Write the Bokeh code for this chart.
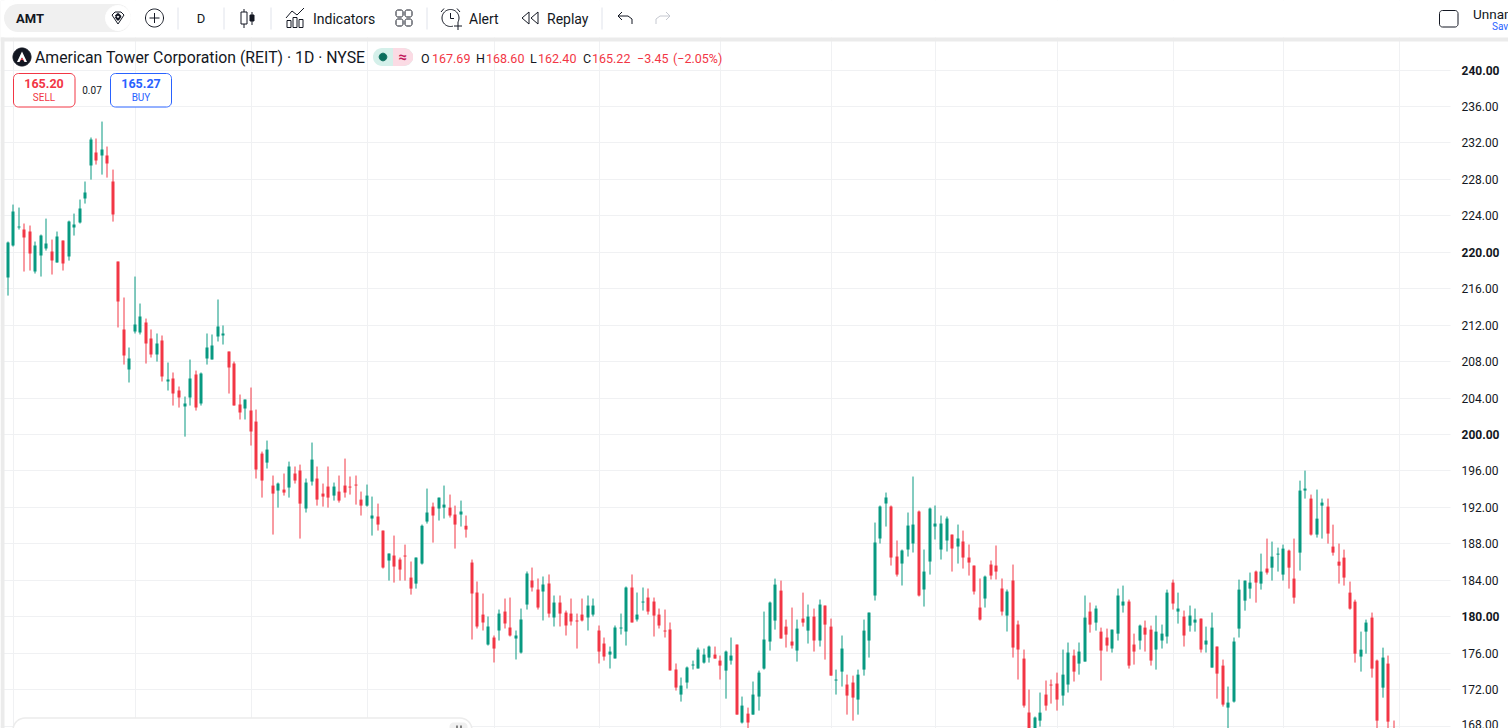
from bokeh.plotting import figure
from bokeh.embed import file_html
from bokeh.resources import INLINE
from bokeh.core.properties import value
from bokeh.models import Range1d, FixedTicker, ColumnDataSource, LinearAxis
import math

opens = [
217.22,220.73,222.71,222.49,222.27,217.88,219.63,220.40,220.07,218.86,
221.28,219.52,222.71,223.25,225.89,229.51,230.94,230.61,230.61,227.76,
218.97,211.52,207.13,211.30,211.19,212.28,210.53,208.77,210.31,205.81,
206.14,204.82,203.06,204.05,206.58,203.39,208.33,208.22,210.75,210.86,
209.10,207.78,203.28,202.85,202.62,201.41,197.90,196.91,194.39,193.84,
193.95,194.17,195.71,196.04,191.87,194.83,195.16,193.51,194.28,193.29,
193.73,194.39,194.28,194.50,192.85,192.19,190.77,190.99,189.45,186.16,
186.71,186.27,186.71,184.29,183.63,185.83,190.44,192.08,191.87,191.97,
191.97,191.21,191.21,189.98,185.94,182.65,180.23,176.94,177.71,178.48,
180.56,178.81,177.60,176.06,181.33,183.97,182.98,182.76,183.64,179.91,
181.55,180.45,180.34,179.58,180.23,179.91,180.23,178.48,177.05,175.84,
175.41,178.70,178.37,183.20,179.69,181.55,182.10,181.66,180.23,178.48,
178.59,174.20,171.45,172.77,174.64,174.31,174.96,175.51,175.84,175.18,
174.08,175.18,176.94,168.38,169.36,169.25,171.23,174.30,177.27,179.57,
182.86,178.91,177.27,176.28,179.79,178.47,180.01,177.38,181.22,178.91,
172.99,173.97,172.55,172.77,170.90,174.19,177.38,182.32,188.58,192.42,
192.09,186.60,185.83,187.37,188.03,191.54,182.98,186.05,189.89,187.37,
188.36,189.01,187.70,188.25,186.49,185.61,181.00,181.99,185.72,185.61,
183.09,180.12,183.97,179.14,175.40,169.48,166.90,168.59,171.45,172.55,
172.66,171.34,172.55,175.73,174.85,175.07,180.56,179.35,178.36,177.71,
176.50,178.14,181.22,181.66,176.94,177.38,178.80,178.58,176.39,177.38,
177.82,183.74,180.56,180.01,179.02,179.35,179.79,176.94,174.41,176.72,
174.63,170.02,170.68,178.69,181.76,183.08,184.95,183.63,185.28,185.38,
186.81,184.62,187.25,184.18,187.03,193.84,192.96,189.01,192.19,192.08,
187.69,186.04,186.48,182.64,181.65,175.62,178.36,179.90,175.18,172.21,
174.85,167.69]
highs = [
221.17,225.23,224.90,223.15,222.93,221.17,221.94,223.69,221.39,222.27,
221.28,223.47,224.24,225.78,227.76,232.59,232.48,234.34,231.60,229.07,
218.97,215.03,209.54,217.33,214.37,212.72,211.52,211.08,210.86,207.89,
206.80,205.26,204.16,208.22,207.01,206.80,211.08,210.97,214.81,211.96,
209.10,208.00,204.38,203.83,205.15,202.73,198.12,199.33,195.49,194.72,
195.71,197.02,196.48,196.69,195.16,199.11,196.48,194.61,196.48,194.72,
195.49,197.35,195.38,195.49,193.73,194.50,193.18,192.41,189.45,186.93,
188.90,186.49,187.91,186.05,186.49,190.11,194.06,192.52,193.07,194.39,
193.40,192.19,192.74,191.10,186.27,183.86,182.54,180.02,177.93,180.78,
181.99,182.10,178.48,180.89,184.96,185.39,184.19,184.41,184.63,182.32,
182.32,180.67,181.99,180.34,181.99,182.32,181.99,179.03,177.71,176.72,
179.03,180.34,183.31,184.63,182.65,183.20,183.09,182.10,180.89,180.78,
179.36,174.86,173.32,174.53,175.18,176.61,176.50,176.83,176.72,175.73,
176.28,177.71,176.94,171.23,170.02,172.88,174.08,180.56,181.66,184.18,
183.96,179.68,181.00,179.68,182.64,181.33,180.89,181.88,181.22,179.79,
174.19,177.93,173.64,173.53,174.19,179.68,180.45,190.33,192.20,193.62,
192.20,188.36,187.37,191.43,195.38,191.65,187.37,191.98,192.20,191.10,
190.99,189.01,190.11,189.45,187.92,185.61,184.19,184.51,186.16,187.81,
184.19,182.98,185.72,179.57,176.39,172.00,169.04,171.67,172.99,173.10,
173.86,176.39,177.16,176.39,177.16,182.32,181.55,181.22,178.80,178.69,
178.58,183.08,183.41,181.88,178.14,179.13,179.57,179.02,180.12,179.13,
182.97,184.07,182.64,180.67,181.22,180.89,179.79,178.91,180.45,176.72,
175.29,172.33,177.71,184.07,183.96,184.84,185.06,186.92,188.57,188.24,
187.58,187.91,187.36,188.57,194.93,196.03,193.40,193.95,192.96,192.96,
190.10,188.02,187.36,183.85,181.87,178.36,179.68,180.45,175.29,176.60,
175.73,168.60]
lows = [
215.24,220.62,222.49,217.88,217.99,217.66,217.33,220.18,217.55,218.86,
217.99,219.08,221.83,223.15,225.34,227.97,229.62,228.52,228.19,223.36,
211.74,207.67,205.70,211.08,210.97,207.78,208.44,208.00,205.81,204.82,
203.17,202.95,199.76,203.17,202.62,203.17,207.67,208.22,210.20,209.87,
204.49,203.17,201.64,201.64,198.78,195.16,193.07,196.26,189.01,191.97,
193.29,193.07,194.61,188.57,191.43,194.39,192.19,192.08,191.97,192.74,
192.52,193.07,193.40,192.30,191.10,192.08,188.90,189.45,185.28,183.96,
183.74,183.96,183.96,182.42,183.08,185.72,190.22,188.13,190.55,190.77,
190.88,187.47,189.89,188.68,177.49,178.70,178.48,176.83,174.97,177.38,
178.70,177.82,175.30,175.95,180.78,182.76,180.78,179.58,179.91,178.92,
178.92,177.93,179.03,176.50,179.47,178.48,180.02,174.86,175.18,174.31,
175.41,178.04,176.83,179.36,179.47,180.67,180.23,177.82,178.70,177.71,
174.09,171.89,170.68,172.11,174.20,174.31,174.85,174.96,175.40,173.10,
171.00,174.74,169.25,168.27,167.72,169.25,169.69,174.19,176.28,178.58,
177.60,176.61,176.50,175.07,178.91,177.05,176.17,176.72,175.29,173.53,
171.45,172.33,169.25,168.59,169.25,173.53,175.51,181.77,188.03,189.89,
185.61,184.40,183.42,186.60,187.04,182.21,181.11,184.62,188.47,186.27,
187.15,184.95,185.83,185.28,184.51,182.43,179.57,181.00,184.08,184.08,
180.12,178.37,175.51,173.10,170.02,166.60,166.20,167.94,169.69,170.46,
169.69,170.24,171.67,172.88,173.64,175.07,178.25,178.47,172.99,176.17,
176.06,177.38,180.45,174.30,174.74,176.39,176.17,174.63,174.19,176.50,
177.05,180.78,179.24,176.72,178.36,178.36,176.06,176.06,174.41,171.00,
170.13,167.60,170.57,177.71,180.66,181.98,181.54,182.97,184.62,183.96,
184.95,183.96,183.08,181.43,185.06,192.96,188.90,188.68,188.57,188.02,
186.70,183.63,183.41,180.77,174.96,173.97,175.94,173.31,167.50,171.11,
167.40,162.40]
closes = [
221.06,224.46,222.82,221.61,219.85,220.73,221.83,220.95,219.08,221.72,
218.75,223.36,223.04,224.79,226.55,232.37,230.06,231.27,229.73,224.13,
214.58,208.66,208.33,212.06,212.94,209.98,208.77,209.98,206.36,206.03,
204.49,204.05,203.39,206.14,202.95,206.69,209.54,209.76,211.85,211.08,
207.34,203.17,202.41,203.83,200.32,196.15,194.94,198.34,193.51,194.61,
193.62,196.48,194.94,192.41,194.72,197.24,192.85,193.18,193.07,194.28,
192.74,193.62,194.17,194.39,192.19,193.29,191.10,190.11,185.39,186.93,
185.50,185.17,186.60,183.08,186.49,189.98,191.43,191.10,193.07,192.30,
191.10,190.11,191.54,189.56,182.54,178.92,179.36,178.92,176.50,180.34,
179.25,177.93,177.93,179.69,184.74,183.20,181.00,183.53,180.34,181.55,
180.34,179.03,179.47,179.47,179.58,181.22,181.22,176.17,175.62,176.17,
178.81,178.81,183.20,179.36,180.23,181.66,180.56,180.12,179.03,178.37,
174.09,172.22,172.44,174.42,174.75,176.39,175.84,176.72,175.40,174.63,
176.17,175.73,169.25,170.24,168.38,171.45,173.86,177.49,181.55,183.52,
177.60,178.03,176.83,178.69,179.35,180.01,177.38,181.33,179.13,173.53,
173.10,176.50,171.34,171.12,173.64,178.47,180.45,188.14,192.09,193.08,
186.49,184.62,187.26,190.00,190.11,182.32,184.95,191.87,190.22,190.22,
190.77,187.48,188.58,186.49,185.94,182.76,179.68,184.40,184.51,184.95,
180.56,182.76,176.61,176.39,170.24,167.20,168.93,169.47,170.24,172.44,
170.90,173.64,176.06,173.97,176.17,179.90,179.13,180.89,176.28,176.83,
178.58,182.32,181.66,174.63,176.17,179.02,178.03,175.18,178.36,178.14,
182.64,181.44,180.89,177.93,180.12,179.68,176.39,177.38,178.80,173.75,
170.35,170.57,177.27,182.97,183.96,183.74,183.74,184.95,184.84,186.59,
186.92,187.47,185.38,182.09,193.84,194.06,189.01,190.76,192.52,189.12,
187.03,185.60,184.29,180.88,175.94,176.38,179.35,174.30,168.59,175.51,
168.48,165.22]

month_ticks = [1, 23, 44, 65, 88, 107, 129, 149, 168, 190, 211, 231, 252]
price_ticks = [168,172,176,180,184,188,192,196,200,204,208,212,216,220,224,228,232,236,240]
bold_ticks = [180, 200, 220, 240]

title = "American Tower Corporation (REIT) · 1D · NYSE"
symbol = "AMT"
ohlc_text = [("O",421,"#131722"),("167.69",432,"#f23645"),("H",476,"#131722"),("168.60",486,"#f23645"),
             ("L",530,"#131722"),("162.40",538,"#f23645"),("C",583,"#131722"),("165.22",592,"#f23645"),
             ("−3.45",637,"#f23645"),("(−2.05%)",673,"#f23645")]
sell_price, buy_price, spread = "165.20", "165.27", "0.07"

GREEN, RED, BLUE, DARK, GRIDC, BAND, SEP = "#089981", "#f23645", "#2962ff", "#131722", "#f0f1f3", "#ebebeb", "#e0e3eb"
FONT = "Roboto"
W, H = 1508, 728
SCALE_X = 1450

PX_PER_BAR = 5.522
X0 = 7.3
PX_PER_USD = (725.5 - 69.5) / 72.0

def bar_x(i):
    # bars sit on whole device pixels, as in the reference
    return (round(6.8 + PX_PER_BAR * i) + 0.5 - X0) / PX_PER_BAR

x_rng = Range1d((0 - X0) / PX_PER_BAR, (W - X0) / PX_PER_BAR)
y_rng = Range1d(240 - (H - 69.5) / PX_PER_USD, 240 + 69.5 / PX_PER_USD)

p = figure(width=W, height=H, output_backend="svg", toolbar_location=None,
           x_range=x_rng, y_range=y_rng, x_axis_location=None, y_axis_location=None,
           min_border_left=0, min_border_right=0, min_border_top=0, min_border_bottom=0,
           outline_line_color=None, background_fill_color="white", border_fill_color="white")

p.extra_x_ranges["px"] = Range1d(0, W)
p.extra_y_ranges["py"] = Range1d(H, 0)

p.xgrid.ticker = FixedTicker(ticks=[bar_x(i) for i in month_ticks])
p.ygrid.ticker = FixedTicker(ticks=price_ticks)
p.grid.grid_line_color = GRIDC
p.grid.grid_line_width = 1

AXIS_AT = (SCALE_X - X0) / PX_PER_BAR
def price_axis(ticks, style):
    ax = LinearAxis(ticker=FixedTicker(ticks=ticks), fixed_location=AXIS_AT)
    ax.formatter.use_scientific = False
    ax.major_label_overrides = {t: f"{t:.2f}" for t in ticks}
    ax.axis_line_color = None
    ax.major_tick_line_color = None
    ax.minor_tick_line_color = None
    ax.major_label_standoff = 5
    ax.major_label_text_font = FONT
    ax.major_label_text_font_size = "12px"
    ax.major_label_text_font_style = style
    ax.major_label_text_color = DARK
    p.add_layout(ax, "right")
price_axis([t for t in price_ticks if t not in bold_ticks], "normal")
price_axis(bold_ticks, "bold")

# candles
idx = list(range(len(opens)))
up = [i for i in idx if closes[i] >= opens[i]]
dn = [i for i in idx if closes[i] < opens[i]]
for subset, col in ((up, GREEN), (dn, RED)):
    src = ColumnDataSource(dict(x=[bar_x(i) for i in subset], h=[highs[i] for i in subset], l=[lows[i] for i in subset],
                                t=[max(opens[i], closes[i]) for i in subset],
                                b=[min(opens[i], closes[i]) for i in subset]))
    p.segment("x", "h", "x", "l", source=src, line_color=col, line_width=1)
    p.vbar("x", width=3 / PX_PER_BAR, top="t", bottom="b", source=src, fill_color=col, line_color=None)

KW = dict(x_range_name="px", y_range_name="py")

def rrect(x0, y0, x1, y1, r):
    xs, ys = [], []
    for cx, cy, a0 in ((x1 - r, y0 + r, -90), (x1 - r, y1 - r, 0), (x0 + r, y1 - r, 90), (x0 + r, y0 + r, 180)):
        for k in range(9):
            a = math.radians(a0 + k * 90 / 8)
            xs.append(cx + r * math.cos(a))
            ys.append(cy + r * math.sin(a))
    return xs, ys

def box(x0, y0, x1, y1, fill="white", line=None, r=0, lw=1):
    if r:
        xs, ys = rrect(x0, y0, x1, y1, r)
    else:
        xs, ys = [x0, x1, x1, x0], [y0, y0, y1, y1]
    p.patch(xs, ys, fill_color=fill or "white", fill_alpha=0 if fill is None else 1,
            line_color=line, line_width=lw, **KW)

def ln(xs, ys, col=DARK, lw=1):
    p.line(xs, ys, line_color=col, line_width=lw, **KW)

def ring(cx, cy, r, col=DARK, fill=None, lw=1):
    n = 48
    xs = [cx + r * math.cos(2 * math.pi * k / n) for k in range(n)]
    ys = [cy + r * math.sin(2 * math.pi * k / n) for k in range(n)]
    p.patch(xs, ys, fill_color=fill or "white", fill_alpha=0 if fill is None else 1,
            line_color=col, line_width=lw, **KW)

def txt(x, y, s, size=13, col=DARK, align="left", style="normal", font=FONT):
    p.text([x], [y], text=[s], text_font=value(font), text_font_size=f"{size}px", text_color=col,
           text_align=align, text_baseline="middle", text_font_style=style, **KW)

# chrome: price scale background, left strip, toolbar, band
box(SCALE_X, 0, W, H, fill="white")
box(0, 0, 4, H, fill=BAND)
box(0, 0, W, 37, fill="white")
box(0, 37, W, 41, fill=BAND)

box(3.5, 3.5, 130.5, 31.5, fill="#f0f0f0", r=14)
ring(117.5, 17.5, 12.5, col="white", fill="white")
ln([111.5, 114.5, 120.5, 123.5, 117.5, 111.5], [14.5, 11.5, 11.5, 14.5, 23.5, 14.5], lw=1)
ln([115, 117.5, 120, 117.5, 115], [16, 13.5, 16, 19.5, 16], lw=2)
txt(15.5, 18, symbol, 13, DARK, style="bold")

ring(154, 17.5, 9)
ln([149, 159], [17.5, 17.5]); ln([154, 154], [12.5, 22.5])
for sx in (177.5, 223.5, 270.5, 426.5, 601.5):
    ln([sx, sx], [7, 29], SEP)
txt(200.5, 18, "D", 13, DARK, align="center")

# candle icon
ln([243.5, 243.5], [8.5, 27.5]); box(240.5, 11.5, 246.5, 23.5, fill="white", line=DARK)
ln([251.5, 251.5], [11.5, 24.5]); box(249.5, 14.5, 253.5, 20.5, fill=DARK, line=DARK)

# indicators icon
ln([285.5, 291.5, 296.5, 303.5], [17.5, 10.5, 14.5, 7.5])
box(286.5, 20, 290.5, 27, fill="white", line=DARK)
box(292.5, 17, 296.5, 27, fill="white", line=DARK)
box(298.5, 19, 302.5, 27, fill="white", line=DARK)
txt(312.5, 18, "Indicators", 14)

# layouts icon
for gx in (395.5, 404.5):
    for gy in (9.5, 18.5):
        box(gx, gy, gx + 7, gy + 7, fill="white", line=DARK, r=2)

# alert icon
ring(450, 17.5, 8.5)
ln([450, 450, 453.5], [12.5, 18, 18])
ln([440.5, 443.5], [11.5, 8]); ln([456.5, 459.5], [8, 11.5])
box(452.5, 21.5, 462.5, 29.5, fill="white")
ln([453.5, 461.5], [25.5, 25.5]); ln([457.5, 457.5], [21.5, 29.5])
txt(468.5, 18, "Alert", 14)

# replay icon
ln([528.5, 521.5, 528.5, 528.5], [11.5, 17.5, 23.5, 11.5])
ln([537.5, 530.5, 537.5, 537.5], [11.5, 17.5, 23.5, 11.5])
txt(546.5, 18, "Replay", 14)

# undo / redo
ln([621.5, 617.5, 621.5], [11.5, 15.5, 19.5]); ln([617.5, 627.5, 631.5, 631.5], [15.5, 15.5, 18.5, 23.5])
ln([665.5, 669.5, 665.5], [11.5, 15.5, 19.5], "#c5c8d0"); ln([669.5, 659.5, 655.5, 655.5], [15.5, 15.5, 18.5, 23.5], "#c5c8d0")

# right part of the header
box(1439, 10, 1457.5, 26.5, fill="white", line=DARK, r=3)
txt(1472.5, 13.5, "Unnamed", 13.5)
txt(1491.5, 25.5, "Save", 10, BLUE)

# legend row
ring(21.5, 56.5, 9, col=DARK, fill=DARK)
p.patch([21.5, 26.5, 24, 21.5, 19, 16.5], [51, 61.5, 61.5, 57, 61.5, 61.5], fill_color="white", line_color=None, **KW)
p.patch([19, 21.5, 24, 22.3, 20.7], [61.5, 57, 61.5, 59.5, 59.5], fill_color=RED, line_color=None, **KW)
txt(34.5, 57, title, 15.8)

box(372.5, 47.5, 412.5, 65.5, fill="#d5f0ea", r=9)
p.patch([392.5, 403.5, 408.5, 412.5, 412.5, 408.5, 403.5, 392.5], [47.5, 47.5, 49, 53.5, 59.5, 64, 65.5, 65.5],
        fill_color="#fbdbe4", line_color=None, **KW)
ring(382.5, 56.5, 3.8, col="#0a6d5c", fill="#0a6d5c")
txt(402, 56.5, "≈", 15, "#c2185b", align="center", style="bold")

for s, x, col in ohlc_text:
    txt(x - 0.5, 57.5, s, 12.5, col)

# sell / buy
box(13, 73, 74.5, 106.5, fill="white", line=RED, r=5)
box(110, 73, 171, 106.5, fill="white", line=BLUE, r=5)
txt(43.5, 82.5, sell_price, 12.5, RED, align="center", style="bold")
txt(43.5, 97, "SELL", 10, RED, align="center")
txt(91.5, 89, spread, 10, DARK, align="center")
txt(140.5, 82.5, buy_price, 12.5, BLUE, align="center", style="bold")
txt(140.5, 97, "BUY", 10, BLUE, align="center")

# bottom panel
box(12.5, 717.5, 471.5, 745, fill="white", line="#ececec", r=12, lw=1.5)
box(449, 722, 467, 745, fill="#f0f0f0", r=4)
ln([456.5, 456.5], [725, 728], "#444", 1.3); ln([460.5, 460.5], [725, 728], "#444", 1.3)

open("out.html", "w").write(file_html(p, INLINE))
